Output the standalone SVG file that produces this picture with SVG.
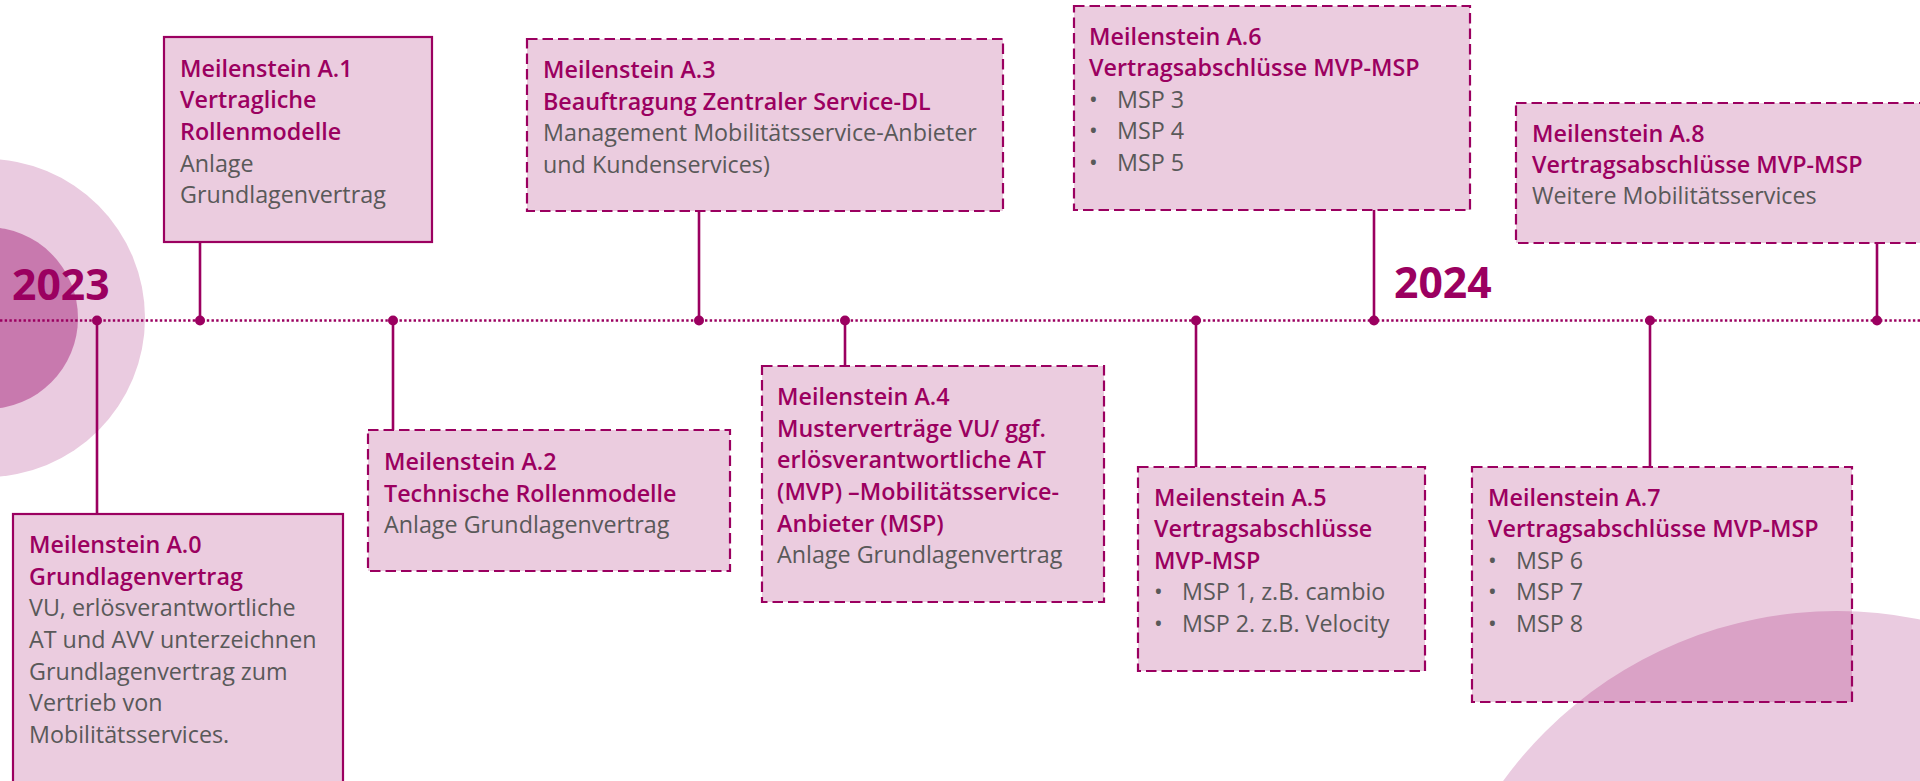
<svg xmlns="http://www.w3.org/2000/svg" width="1920" height="781" viewBox="0 0 1920 781">
<style>
.box{fill:#9B0060;fill-opacity:0.2;stroke:#9B0060;stroke-width:2.2}
.dash{stroke-dasharray:10.5 5}
.t{font-family:"Open Sans","Liberation Sans",sans-serif;font-size:23.3px;font-weight:600;fill:#9B0060}
.b{font-family:"Open Sans","Liberation Sans",sans-serif;font-size:23.3px;font-weight:400;fill:#595959}
.yr{font-family:"Open Sans","Liberation Sans",sans-serif;font-size:42.7px;font-weight:700;fill:#9B0060}
.con{stroke:#9B0060;stroke-width:2.6;fill:none}
.dot{fill:#9B0060}
</style>
<rect width="1920" height="781" fill="#ffffff"/>
<g id="background">
  <circle cx="-14" cy="318" r="159" fill="#EACBE0"/>
  <circle cx="-13" cy="318" r="91" fill="#C879AE"/>
  <circle cx="1837" cy="1024" r="413" fill="#EACBE0"/>
</g>
<g id="years">
  <text class="yr" x="12" y="300">2023</text>
  <text class="yr" x="1394" y="298">2024</text>
</g>
<g id="connectors">
  <line x1="0" y1="320.5" x2="1920" y2="320.5" stroke="#9B0060" stroke-width="2.6" stroke-dasharray="2.4 2.3"/>
  <line class="con" x1="97" y1="320" x2="97" y2="514"/>
  <line class="con" x1="200" y1="242" x2="200" y2="320"/>
  <line class="con" x1="393" y1="320" x2="393" y2="430"/>
  <line class="con" x1="699" y1="211" x2="699" y2="320"/>
  <line class="con" x1="845" y1="320" x2="845" y2="366"/>
  <line class="con" x1="1196" y1="320" x2="1196" y2="467"/>
  <line class="con" x1="1374" y1="210" x2="1374" y2="320"/>
  <line class="con" x1="1650" y1="320" x2="1650" y2="467"/>
  <line class="con" x1="1877" y1="243" x2="1877" y2="320"/>
  <circle class="dot" cx="97" cy="320.5" r="5"/>
  <circle class="dot" cx="200" cy="320.5" r="5"/>
  <circle class="dot" cx="393" cy="320.5" r="5"/>
  <circle class="dot" cx="699" cy="320.5" r="5"/>
  <circle class="dot" cx="845" cy="320.5" r="5"/>
  <circle class="dot" cx="1196" cy="320.5" r="5"/>
  <circle class="dot" cx="1374" cy="320.5" r="5"/>
  <circle class="dot" cx="1650" cy="320.5" r="5"/>
  <circle class="dot" cx="1877" cy="320.5" r="5"/>
</g>
<g id="a0">
  <rect class="box" x="13" y="514" width="330" height="290"/>
  <text class="t" x="29" y="553">Meilenstein A.0</text>
  <text class="t" x="29" y="585">Grundlagenvertrag</text>
  <text class="b" x="29" y="616">VU, erlösverantwortliche</text>
  <text class="b" x="29" y="648">AT und AVV unterzeichnen</text>
  <text class="b" x="29" y="680">Grundlagenvertrag zum</text>
  <text class="b" x="29" y="711">Vertrieb von</text>
  <text class="b" x="29" y="743">Mobilitätsservices.</text>
</g>
<g id="a1">
  <rect class="box" x="164" y="37" width="268" height="205"/>
  <text class="t" x="180" y="77">Meilenstein A.1</text>
  <text class="t" x="180" y="108">Vertragliche</text>
  <text class="t" x="180" y="140">Rollenmodelle</text>
  <text class="b" x="180" y="172">Anlage</text>
  <text class="b" x="180" y="203">Grundlagenvertrag</text>
</g>
<g id="a2">
  <rect class="box dash" x="368" y="430" width="362" height="141"/>
  <text class="t" x="384" y="470">Meilenstein A.2</text>
  <text class="t" x="384" y="502">Technische Rollenmodelle</text>
  <text class="b" x="384" y="533">Anlage Grundlagenvertrag</text>
</g>
<g id="a3">
  <rect class="box dash" x="527" y="39" width="476" height="172"/>
  <text class="t" x="543" y="78">Meilenstein A.3</text>
  <text class="t" x="543" y="110">Beauftragung Zentraler Service-DL</text>
  <text class="b" x="543" y="141">Management Mobilitätsservice-Anbieter</text>
  <text class="b" x="543" y="173">und Kundenservices)</text>
</g>
<g id="a4">
  <rect class="box dash" x="762" y="366" width="342" height="236"/>
  <text class="t" x="777" y="405">Meilenstein A.4</text>
  <text class="t" x="777" y="437">Musterverträge VU/ ggf.</text>
  <text class="t" x="777" y="468">erlösverantwortliche AT</text>
  <text class="t" x="777" y="500">(MVP) –Mobilitätsservice-</text>
  <text class="t" x="777" y="532">Anbieter (MSP)</text>
  <text class="b" x="777" y="563">Anlage Grundlagenvertrag</text>
</g>
<g id="a5">
  <rect class="box dash" x="1138" y="467" width="287" height="204"/>
  <text class="t" x="1154" y="506">Meilenstein A.5</text>
  <text class="t" x="1154" y="537">Vertragsabschlüsse</text>
  <text class="t" x="1154" y="569">MVP-MSP</text>
  <text class="b" x="1154" y="600">•</text>
  <text class="b" x="1182" y="600">MSP 1, z.B. cambio</text>
  <text class="b" x="1154" y="632">•</text>
  <text class="b" x="1182" y="632">MSP 2. z.B. Velocity</text>
</g>
<g id="a6">
  <rect class="box dash" x="1074" y="6" width="396" height="204"/>
  <text class="t" x="1089" y="45">Meilenstein A.6</text>
  <text class="t" x="1089" y="76">Vertragsabschlüsse MVP-MSP</text>
  <text class="b" x="1089" y="108">•</text>
  <text class="b" x="1117" y="108">MSP 3</text>
  <text class="b" x="1089" y="139">•</text>
  <text class="b" x="1117" y="139">MSP 4</text>
  <text class="b" x="1089" y="171">•</text>
  <text class="b" x="1117" y="171">MSP 5</text>
</g>
<g id="a7">
  <rect class="box dash" x="1472" y="467" width="380" height="235"/>
  <text class="t" x="1488" y="506">Meilenstein A.7</text>
  <text class="t" x="1488" y="537">Vertragsabschlüsse MVP-MSP</text>
  <text class="b" x="1488" y="569">•</text>
  <text class="b" x="1516" y="569">MSP 6</text>
  <text class="b" x="1488" y="600">•</text>
  <text class="b" x="1516" y="600">MSP 7</text>
  <text class="b" x="1488" y="632">•</text>
  <text class="b" x="1516" y="632">MSP 8</text>
</g>
<g id="a8">
  <rect class="box dash" x="1516" y="103" width="440" height="140"/>
  <text class="t" x="1532" y="142">Meilenstein A.8</text>
  <text class="t" x="1532" y="173">Vertragsabschlüsse MVP-MSP</text>
  <text class="b" x="1532" y="204">Weitere Mobilitätsservices</text>
</g>
</svg>
